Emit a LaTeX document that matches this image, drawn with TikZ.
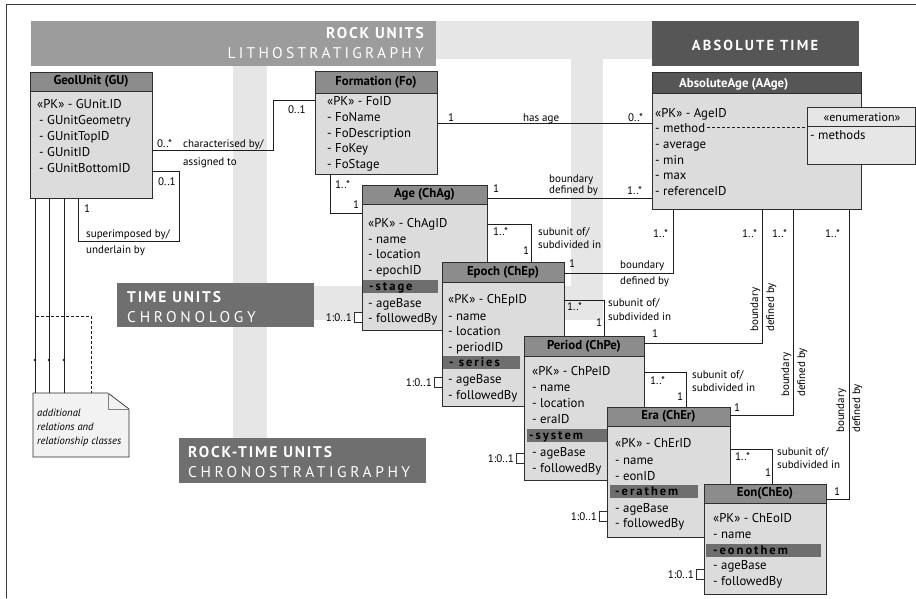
\documentclass[tikz,border=0pt]{standalone}
\usepackage{fontspec}
\setmainfont{PT Sans}
\usetikzlibrary{calc}
\definecolor{framec}{HTML}{3A3A3A}
\definecolor{rockgray}{HTML}{9C9C9C}
\definecolor{timegray}{HTML}{6F6F6F}
\definecolor{absgray}{HTML}{565656}
\definecolor{bandgray}{HTML}{E6E6E6}
\definecolor{headfill}{HTML}{8C8C8C}
\definecolor{bodyfill}{HTML}{DCDCDC}
\definecolor{hlfill}{HTML}{6E6E6E}
\definecolor{notefill}{HTML}{F2F2F2}
\definecolor{enumfill}{HTML}{E6E6E6}
\definecolor{boxline}{HTML}{2E2E2E}
\definecolor{connline}{HTML}{1E1E1E}
\begin{document}
\begin{tikzpicture}[x=1pt,y=-1pt,
  band/.style={fill=bandgray},
  banner/.style={inner sep=0pt, outer sep=0pt, anchor=north west},
  btitle/.style={inner sep=0pt, text=white, font={\bfseries\fontsize{15.5}{18}\selectfont\addfontfeatures{LetterSpace=12}}},
  bsub/.style={inner sep=0pt, text=white, font={\fontsize{15.5}{18}\selectfont\addfontfeatures{LetterSpace=21}}},
  classbody/.style={draw=boxline, fill=bodyfill, line width=0.8pt, inner sep=0pt, outer sep=0pt, anchor=north west},
  classhead/.style={draw=boxline, fill=headfill, line width=0.8pt, inner sep=0pt, outer sep=0pt, anchor=north west, font={\bfseries\fontsize{12.8}{15}\selectfont}},
  attr/.style={anchor=base west, inner sep=0pt, font={\fontsize{12.8}{15}\selectfont}},
  hl/.style={fill=hlfill, inner sep=0pt, outer sep=0pt, anchor=north west, minimum height=13pt},
  hltext/.style={anchor=base west, inner sep=0pt, font={\bfseries\fontsize{12.5}{14}\selectfont\addfontfeatures{LetterSpace=16}}},
  lbl/.style={anchor=base west, inner sep=0pt, font={\fontsize{11}{13}\selectfont}},
  conn/.style={draw=connline, line width=0.7pt},
  dsh/.style={draw=connline, line width=0.7pt, dash pattern=on 3pt off 2pt},
  mult/.style={draw=boxline, fill=white, line width=0.6pt, minimum width=8pt, minimum height=10pt, inner sep=0pt, outer sep=0pt, anchor=east},
  multl/.style={anchor=base east, inner sep=0pt, font={\fontsize{11}{13}\selectfont}},
  notetext/.style={anchor=base west, inner sep=0pt, font={\itshape\fontsize{10.6}{12}\selectfont}}
]
\useasboundingbox (0,0) rectangle (916,598);
\fill[white] (0,0) rectangle (916,598);

% background bands
\fill[band] (233,66) rectangle (267,438);
\fill[band] (436,21) rectangle (652,59);
\fill[band] (571,59) rectangle (603,320);
\fill[band] (314,286) rectangle (603,320);

% frame
\draw[framec, line width=0.8pt] (6,598) -- (6,4) -- (916,4);

% banners
\node[banner, fill=rockgray, minimum width=405pt, minimum height=45pt] (rockb) at (31,21) {};
\node[btitle, anchor=base east] (rockt) at (424,38) {ROCK UNITS};
\node[bsub, anchor=base east] (rocks) at (424,58) {LITHOSTRATIGRAPHY};

\node[banner, fill=absgray, minimum width=207pt, minimum height=45pt] (absb) at (652,21) {};
\node[btitle, anchor=base, font={\bfseries\fontsize{14.5}{17}\selectfont\addfontfeatures{LetterSpace=15}}] (abst) at (755,50) {ABSOLUTE TIME};

\node[banner, fill=timegray, minimum width=197pt, minimum height=44pt] (timeb) at (117,283) {};
\node[btitle, anchor=base west] (timet) at (127,302) {TIME UNITS};
\node[bsub, anchor=base west, font={\fontsize{15.5}{18}\selectfont\addfontfeatures{LetterSpace=24}}] (times) at (127,322) {CHRONOLOGY};

\node[banner, fill=timegray, minimum width=247pt, minimum height=45pt] (rtb) at (179,438) {};
\node[btitle, anchor=base west] (rtt) at (188,457) {ROCK-TIME UNITS};
\node[bsub, anchor=base west, font={\fontsize{15.5}{18}\selectfont\addfontfeatures{LetterSpace=23}}] (rts) at (188,477) {CHRONOSTRATIGRAPHY};

% ---------- GeolUnit
\node[classbody, minimum width=122pt, minimum height=126pt] (gu) at (30,72) {};
\node[classhead, minimum width=122pt, minimum height=19pt] (guh) at (30,72) {GeolUnit (GU)};
\node[attr] (gu1) at (37,108) {«PK» - GUnit.ID};
\node[attr] (gu2) at (39,124) {- GUnitGeometry};
\node[attr] (gu3) at (39,140) {- GUnitTopID};
\node[attr] (gu4) at (39,156) {- GUnitID};
\node[attr] (gu5) at (39,172) {- GUnitBottomID};

% ---------- Formation
\node[classbody, minimum width=122pt, minimum height=103pt] (fo) at (315,71) {};
\node[classhead, minimum width=122pt, minimum height=22pt] (foh) at (315,71) {Formation (Fo)};
\node[attr] (fo1) at (327,105) {«PK» - FoID};
\node[attr] (fo2) at (327,121) {- FoName};
\node[attr] (fo3) at (327,137) {- FoDescription};
\node[attr] (fo4) at (327,152) {- FoKey};
\node[attr] (fo5) at (327,168) {- FoStage};

% ---------- AbsoluteAge
\node[classbody, minimum width=209pt, minimum height=137pt] (aa) at (652,72) {};
\node[classhead, fill=absgray, minimum width=209pt, minimum height=21pt] (aah) at (652,72) {};
\node[anchor=base west, inner sep=0pt, text=white, font={\bfseries\fontsize{12.8}{15}\selectfont}] (aaht) at (679,87) {AbsoluteAge (AAge)};
\node[attr] (aa1) at (655,117) {«PK» - AgeID};
\node[attr] (aa2) at (655,132) {- method};
\node[attr] (aa3) at (655,148) {- average};
\node[attr] (aa4) at (655,164) {- min};
\node[attr] (aa5) at (655,179) {- max};
\node[attr] (aa6) at (655,195) {- referenceID};

% enumeration
\node[draw=boxline, fill=enumfill, line width=0.8pt, inner sep=0pt, outer sep=0pt, anchor=north west, minimum width=108pt, minimum height=57pt] (enum) at (807,107) {};
\draw[boxline, line width=0.8pt] (enum.west |- 0,126) -- (enum.east |- 0,126);
\node[anchor=base, inner sep=0pt, font={\fontsize{12}{14}\selectfont}] (enumh) at (862,121) {«enumeration»};
\node[attr] (enum1) at (810,139) {- methods};
\coordinate (dstart) at ($(aa2.base east)+(2,-5)$);
\draw[dsh] (dstart) -- (dstart -| enum.west);

% ---------- connectors
\draw[conn] (gu.east |- 0,150) -| (273,100) -- (fo.west |- 0,100);
\node[lbl] (l1a) at (157,147) {0..*};
\node[lbl] (l1b) at (183,147) {characterised by/};
\node[lbl] (l1c) at (183,165) {assigned to};
\node[lbl] (l1d) at (288,113) {0..1};

\draw[conn] (gu.east |- 0,171) -| (179,241) -| (gu.south -| 78,0);
\node[lbl] (l2a) at (158,185) {0..1};
\node[lbl] (l2b) at (84,212) {1};
\node[lbl] (l2c) at (86,237) {superimposed by/};
\node[lbl] (l2d) at (86,253) {underlain by};

\draw[conn] (fo.east |- 0,123) -- (aa.west |- 0,123);
\node[lbl] (l3a) at (448,121) {1};
\node[lbl] (l3b) at (523,121) {has age};
\node[lbl] (l3c) at (628,121) {0..*};

% ---------- Age
\draw[conn] (fo.south -| 330,0) |- (362,213);
\node[lbl] (l4a) at (335,188) {1..*};
\node[lbl] (l4b) at (353,208) {1};

\node[classbody, minimum width=125pt, minimum height=145pt] (ag) at (362,185) {};
\node[classhead, minimum width=125pt, minimum height=19pt] (agh) at (362,185) {Age (ChAg)};
\node[attr] (ag1) at (368,227) {«PK» - ChAgID};
\node[attr] (ag2) at (368,243) {- name};
\node[attr] (ag3) at (368,258) {- location};
\node[attr] (ag4) at (368,274) {- epochID};
\node[hl, minimum width=75pt] (agb) at (363,280) {};
\node[hltext] (ag5) at (369,290.5) {-stage};
\node[attr] (ag6) at (368,307) {- ageBase};
\node[attr] (ag7) at (368,322) {- followedBy};
\node[mult] (agm) at (ag.west |- 0,317) {};
\node[multl] (agml) at ($(agm.west)+(-2,4)$) {1:0..1};

\draw[conn] (ag.east |- 0,198) -- (aa.west |- 0,198);
\node[lbl] (l5a) at (493,192) {1};
\node[lbl] (l5b) at (549,182) {boundary};
\node[lbl] (l5c) at (549,193) {defined by};
\node[lbl] (l5d) at (627,194) {1..*};

\draw[conn] (ag.east |- 0,224) -| (531,262);
\node[lbl] (l6a) at (493,235) {1..*};
\node[lbl] (l6b) at (523,254) {1};
\node[lbl] (l6c) at (538,235) {subunit of/};
\node[lbl] (l6d) at (538,248) {subdivided in};

% ---------- Epoch
\node[classbody, minimum width=122pt, minimum height=144pt] (ep) at (442,262) {};
\node[classhead, minimum width=122pt, minimum height=20pt] (eph) at (442,262) {Epoch (ChEp)};
\node[attr] (ep1) at (448,303) {«PK» - ChEpID};
\node[attr] (ep2) at (448,320) {- name};
\node[attr] (ep3) at (448,335) {- location};
\node[attr] (ep4) at (448,351) {- periodID};
\node[hl, minimum width=77pt] (epb) at (443,356) {};
\node[hltext] (ep5) at (449,366.5) {- series};
\node[attr] (ep6) at (448,383) {- ageBase};
\node[attr] (ep7) at (448,399) {- followedBy};
\node[mult] (epm) at (ep.west |- 0,382) {};
\node[multl] (epml) at ($(epm.west)+(-2,4)$) {1:0..1};

\draw[conn] (ep.east |- 0,273) -| (aa.south -| 673,0);
\node[lbl] (l7a) at (569,267) {1};
\node[lbl] (l7b) at (653,237) {1..*};
\node[lbl] (l7c) at (620,268) {boundary};
\node[lbl] (l7d) at (620,284) {defined by};

\draw[conn] (ep.east |- 0,300) -| (604,336);
\node[lbl] (l8a) at (567,310) {1..*};
\node[lbl] (l8b) at (596,326) {1};
\node[lbl] (l8c) at (608,306) {subunit of/};
\node[lbl] (l8d) at (608,320) {subdivided in};

% ---------- Period
\node[classbody, minimum width=120pt, minimum height=144pt] (pe) at (524,336) {};
\node[classhead, minimum width=120pt, minimum height=20pt] (peh) at (524,336) {Period (ChPe)};
\node[attr] (pe1) at (532,375) {«PK» - ChPeID};
\node[attr] (pe2) at (532,391) {- name};
\node[attr] (pe3) at (532,407) {- location};
\node[attr] (pe4) at (532,423) {- eraID};
\node[hl, minimum width=80pt] (peb) at (527,429) {};
\node[hltext] (pe5) at (529,439.5) {-system};
\node[attr] (pe6) at (532,456) {- ageBase};
\node[attr] (pe7) at (532,472) {- followedBy};
\node[mult] (pem) at (pe.west |- 0,458) {};
\node[multl] (peml) at ($(pem.west)+(-2,4)$) {1:0..1};

\draw[conn] (pe.east |- 0,343) -| (aa.south -| 762,0);
\node[lbl] (l9a) at (652,337) {1};
\node[lbl] (l9b) at (742,237) {1..*};
\node[lbl, rotate=90] (l9c) at (758,332) {boundary};
\node[lbl, rotate=90] (l9d) at (774,332) {defined by};

\draw[conn] (pe.east |- 0,372) -| (686,407);
\node[lbl] (l10a) at (650,384) {1..*};
\node[lbl] (l10b) at (677,400) {1};
\node[lbl] (l10c) at (692,378) {subunit of/};
\node[lbl] (l10d) at (692,391) {subdivided in};

% ---------- Era
\node[classbody, minimum width=123pt, minimum height=130pt] (er) at (607,407) {};
\node[classhead, minimum width=123pt, minimum height=19pt] (erh) at (607,407) {Era (ChEr)};
\node[attr] (er1) at (615,447) {«PK» - ChErID};
\node[attr] (er2) at (615,464) {- name};
\node[attr] (er3) at (615,480) {- eonID};
\node[hl, minimum width=88pt] (erb) at (610,485) {};
\node[hltext] (er4) at (615,495.5) {-erathem};
\node[attr] (er5) at (615,512) {- ageBase};
\node[attr] (er6) at (615,527) {- followedBy};
\node[mult] (erm) at (er.west |- 0,516) {};
\node[multl] (erml) at ($(erm.west)+(-2,4)$) {1:0..1};

\draw[conn] (er.east |- 0,415) -| (aa.south -| 793,0);
\node[lbl] (l11a) at (734,411) {1};
\node[lbl] (l11b) at (772,237) {1..*};
\node[lbl, rotate=90] (l11c) at (789,397) {boundary};
\node[lbl, rotate=90] (l11d) at (805,397) {defined by};

\draw[conn] (er.east |- 0,449) -| (772,484);
\node[lbl] (l12a) at (735,460) {1..*};
\node[lbl] (l12b) at (765,476) {1};
\node[lbl] (l12c) at (777,455) {subunit of/};
\node[lbl] (l12d) at (777,468) {subdivided in};

% ---------- Eon
\node[classbody, minimum width=122pt, minimum height=110pt] (eo) at (704,484) {};
\node[classhead, minimum width=122pt, minimum height=19pt] (eoh) at (704,484) {Eon(ChEo)};
\node[attr] (eo1) at (713,522) {«PK» - ChEoID};
\node[attr] (eo2) at (713,538) {- name};
\node[hl, minimum width=115pt] (eob) at (706,544) {};
\node[hltext] (eo3) at (713,554.5) {-eonothem};
\node[attr] (eo4) at (713,569) {- ageBase};
\node[attr] (eo5) at (713,585) {- followedBy};
\node[mult] (eom) at (eo.west |- 0,574) {};
\node[multl] (eoml) at ($(eom.west)+(-2,4)$) {1:0..1};

\draw[conn] (eo.east |- 0,499) -| (aa.south -| 849,0);
\node[lbl] (l13a) at (834,495) {1};
\node[lbl] (l13b) at (825,237) {1..*};
\node[lbl, rotate=90] (l13c) at (844,433) {boundary};
\node[lbl, rotate=90] (l13d) at (860,433) {defined by};

% ---------- note and relation lines
\node[inner sep=0pt, outer sep=0pt, anchor=north west, minimum width=96pt, minimum height=64pt] (note) at (33,393) {};
\draw[boxline, fill=notefill, line width=0.7pt] (note.north west) -- ($(note.north east)+(-21,0)$) -- ($(note.north east)+(0,16)$) -- (note.south east) -- (note.south west) -- cycle;
\draw[gray, line width=0.6pt] ($(note.north east)+(-21,0)$) -- ($(note.north east)+(-21,16)$) -- ($(note.north east)+(0,16)$);
\node[notetext] (nt1) at (37,416) {additional};
\node[notetext] (nt2) at (37,430) {relations and};
\node[notetext] (nt3) at (37,444) {relationship classes};

\draw[conn] (35,0 |- gu.south) -- (35,0 |- note.north);
\draw[conn] (49,0 |- gu.south) -- (49,0 |- note.north);
\draw[conn] (64,0 |- gu.south) -- (64,0 |- note.north);
\fill[connline] (35,360) circle (1.4) (49,360) circle (1.4) (64,360) circle (1.4);
\draw[dsh] (36,316) -| (91,0 |- note.north);
\end{tikzpicture}
\end{document}
